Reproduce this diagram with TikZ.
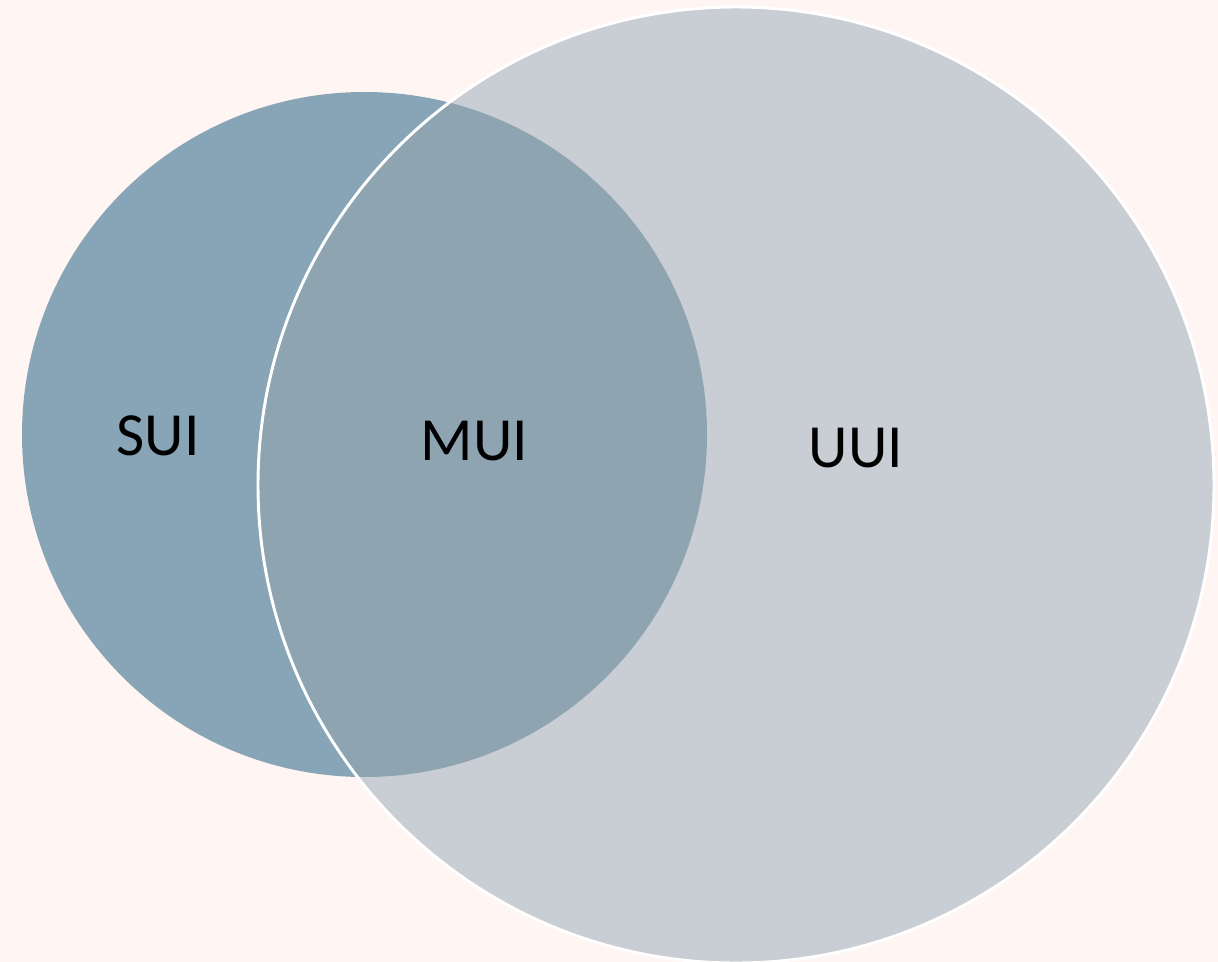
\documentclass[tikz,border=0pt]{standalone}
\usepackage{fontspec}
\setmainfont{Carlito}
\definecolor{bgpink}{HTML}{FFF5F3}
\definecolor{suiblue}{HTML}{87A5B6}
\definecolor{uuigrey}{HTML}{C9CDD4}
\definecolor{muimix}{HTML}{8EA5B1}
\begin{document}
\begin{tikzpicture}
  [x=0.75pt,y=-0.75pt,every node/.style={font=\fontsize{46}{55}\selectfont,inner sep=0pt}]
  \tikzstyle{ring} = [draw=white,line width=2.2pt]
  \fill[bgpink] (0,0) rectangle (1218,962);
  \useasboundingbox (0,0) rectangle (1218,962);
  % the two sets
  \fill[suiblue] (364.5,434.5) circle (342.5);
  \fill[uuigrey] (736,485) circle (478);
  \begin{scope}
    \clip (364.5,434.5) circle (342.5);
    \fill[muimix] (736,485) circle (478);
  \end{scope}
  \draw[ring] (736,485) circle (478);
  \node (sui) at (158,436) {SUI};
  \node (mui) at (474.5,441) {MUI};
  \node (uui) at (856,448) {UUI};
\end{tikzpicture}
\end{document}
